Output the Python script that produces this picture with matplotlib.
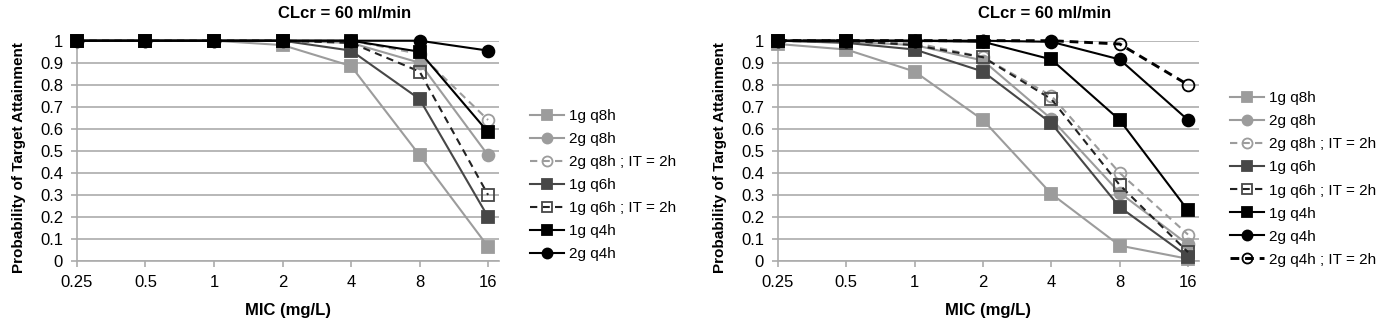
import numpy as np
import matplotlib
matplotlib.use('Agg')
from matplotlib import pyplot as plt

plt.rcParams['font.family'] = ['Liberation Sans', 'DejaVu Sans']

# x categories (MIC, mg/L) and y ticks
mic_labels = ['0.25', '0.5', '1', '2', '4', '8', '16']
y_ticks = [0, 0.1, 0.2, 0.3, 0.4, 0.5, 0.6, 0.7, 0.8, 0.9, 1]
panel_title = 'CLcr = 60 ml/min'

# left panel - probability of target attainment
left_1g_q8h = [1, 1, 1, 0.98, 0.885, 0.48, 0.065]
left_2g_q8h = [1, 1, 1, 1, 0.99, 0.90, 0.48]
left_2g_q8h_it = [1, 1, 1, 1, 1, 0.94, 0.64]
left_1g_q6h = [1, 1, 1, 1, 0.955, 0.735, 0.20]
left_1g_q6h_it = [1, 1, 1, 1, 0.99, 0.86, 0.30]
left_1g_q4h = [1, 1, 1, 1, 1, 0.95, 0.585]
left_2g_q4h = [1, 1, 1, 1, 1, 1, 0.955]

# right panel
right_1g_q8h = [0.985, 0.96, 0.86, 0.64, 0.305, 0.07, 0.01]
right_2g_q8h = [1, 0.995, 0.98, 0.91, 0.645, 0.31, 0.075]
right_2g_q8h_it = [1, 1, 0.99, 0.925, 0.75, 0.40, 0.12]
right_1g_q6h = [1, 0.99, 0.96, 0.86, 0.625, 0.245, 0.02]
right_1g_q6h_it = [1, 1, 0.98, 0.925, 0.735, 0.345, 0.04]
right_1g_q4h = [1, 1, 1, 0.995, 0.915, 0.64, 0.23]
right_2g_q4h = [1, 1, 1, 1, 0.995, 0.915, 0.64]
right_2g_q4h_it = [1, 1, 1, 1, 1, 0.985, 0.80]

LIGHT = '#9c9c9c'
DARK = '#474747'
BLACK = '#000000'
GRID = '#ababab'

styles = {
    '1g q8h': dict(color=LIGHT, marker='s', mfc=LIGHT, mec=LIGHT, ls='-', lw=1.5),
    '2g q8h': dict(color=LIGHT, marker='o', mfc=LIGHT, mec=LIGHT, ls='-', lw=1.5),
    '2g q8h ; IT = 2h': dict(color=LIGHT, marker='o', mfc='none', mec=LIGHT, ls=(0, (3.5, 2.5)), lw=1.5),
    '1g q6h': dict(color=DARK, marker='s', mfc=DARK, mec=DARK, ls='-', lw=1.5),
    '1g q6h ; IT = 2h': dict(color='#222222', marker='s', mfc='none', mec=DARK, ls=(0, (3.5, 2.5)), lw=1.5),
    '1g q4h': dict(color=BLACK, marker='s', mfc=BLACK, mec=BLACK, ls='-', lw=1.5),
    '2g q4h': dict(color=BLACK, marker='o', mfc=BLACK, mec=BLACK, ls='-', lw=1.5),
    '2g q4h ; IT = 2h': dict(color=BLACK, marker='o', mfc='none', mec=BLACK, ls=(0, (3, 2)), lw=2.1),
}


def draw_panel(ax, series):
    x = np.arange(len(mic_labels))
    for name, vals in series:
        st = styles[name]
        ax.plot(x, vals, label=name, color=st['color'], ls=st['ls'], lw=st['lw'],
                marker=st['marker'], ms=8.5, mfc=st['mfc'], mec=st['mec'], mew=1.3,
                clip_on=False, zorder=3)
    ax.set_xlim(0, 6.16)
    ax.set_ylim(0, 1)
    ax.set_xticks(x)
    ax.set_xticklabels(mic_labels)
    ax.set_yticks(y_ticks)
    ax.set_yticklabels(['{:g}'.format(v) for v in y_ticks])
    ax.yaxis.grid(True, color=GRID, lw=1.2)
    ax.set_axisbelow(True)
    for side in ['top', 'right']:
        ax.spines[side].set_visible(False)
    for side in ['left', 'bottom']:
        ax.spines[side].set_color(GRID)
        ax.spines[side].set_linewidth(1.2)
    ax.tick_params(axis='both', colors=GRID, labelcolor='black', labelsize=12, width=1.2, length=4)
    ax.tick_params(axis='y', pad=6)
    ax.tick_params(axis='x', pad=6)
    ax.set_xlabel('MIC (mg/L)', fontsize=12, fontweight='bold')
    ax.set_ylabel('Probability of Target Attainment', fontsize=11, fontweight='bold')
    ax.xaxis.set_label_coords(0.5, -0.19)
    ax.yaxis.set_label_coords(-0.121, 0.47)


fig = plt.figure(figsize=(13.87, 3.33), dpi=100)
ax1 = fig.add_axes([0.0555, 0.2162, 0.3043, 0.6616])
ax2 = fig.add_axes([0.5609, 0.2162, 0.3035, 0.6616])

draw_panel(ax1, [('1g q8h', left_1g_q8h), ('2g q8h', left_2g_q8h),
                 ('2g q8h ; IT = 2h', left_2g_q8h_it), ('1g q6h', left_1g_q6h),
                 ('1g q6h ; IT = 2h', left_1g_q6h_it), ('1g q4h', left_1g_q4h),
                 ('2g q4h', left_2g_q4h)])
draw_panel(ax2, [('1g q8h', right_1g_q8h), ('2g q8h', right_2g_q8h),
                 ('2g q8h ; IT = 2h', right_2g_q8h_it), ('1g q6h', right_1g_q6h),
                 ('1g q6h ; IT = 2h', right_1g_q6h_it), ('1g q4h', right_1g_q4h),
                 ('2g q4h', right_2g_q4h), ('2g q4h ; IT = 2h', right_2g_q4h_it)])

leg_kw = dict(frameon=False, fontsize=11, handlelength=2.2, handletextpad=0.35,
              labelspacing=0.59, borderpad=0, borderaxespad=0, markerscale=0.85, loc='center left')
ax1.legend(bbox_to_anchor=(530 / 1387, 1 - 185 / 333), bbox_transform=fig.transFigure, **leg_kw)
ax2.legend(bbox_to_anchor=(1230 / 1387, 1 - 179 / 333), bbox_transform=fig.transFigure, **leg_kw)

fig.text(345 / 1387, 1 - 13 / 333, panel_title, ha='center', va='center', fontsize=12, fontweight='bold')
fig.text(1045 / 1387, 1 - 13 / 333, panel_title, ha='center', va='center', fontsize=12, fontweight='bold')

fig.savefig('out.png', dpi=100)
